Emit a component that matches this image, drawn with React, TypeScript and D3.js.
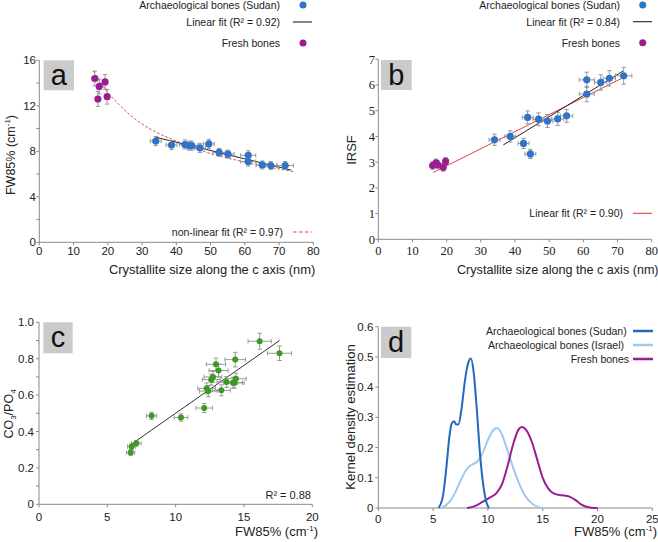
import React from "react";
import * as d3 from "d3";

// ---------- DATA ----------
// Panels a & b: archaeological bones (Sudan)
const archCryst = [34.0, 38.6, 42.5, 43.7, 44.5, 46.9, 49.5, 52.5, 55.1, 61.0, 61.0, 65.1, 67.6, 71.8];
const archCrystErr = [1.6, 1.6, 1.6, 1.6, 1.6, 1.6, 1.6, 1.8, 1.8, 2.2, 2.2, 1.8, 1.8, 2.4];
const archFW = [8.9, 8.55, 8.6, 8.5, 8.5, 8.3, 8.65, 7.9, 7.75, 7.65, 7.1, 6.8, 6.75, 6.75];
const archFWErr = [0.4, 0.4, 0.4, 0.4, 0.4, 0.4, 0.4, 0.35, 0.35, 0.4, 0.4, 0.35, 0.35, 0.35];
const archIRSF = [3.87, 4.0, 3.73, 4.74, 3.32, 4.67, 4.6, 4.68, 4.8, 6.2, 5.65, 6.1, 6.26, 6.36];
const archIRSFErr = [0.22, 0.22, 0.2, 0.25, 0.18, 0.25, 0.25, 0.25, 0.25, 0.3, 0.3, 0.3, 0.3, 0.33];

// Fresh bones
const freshCrystA = [16.2, 17.5, 17.1, 19.2, 19.8];
const freshFW = [14.4, 13.7, 12.6, 14.1, 12.8];
const freshFWErr = [0.65, 0.65, 0.65, 0.65, 0.65];
const freshCrystB = [15.9, 16.9, 17.4, 19.0, 19.7];
const freshIRSF = [2.87, 2.97, 2.9, 2.8, 3.03];
const freshIRSFErr = [0.15, 0.15, 0.15, 0.15, 0.15];
const freshCrystErr = [0.7, 0.7, 0.7, 0.7, 0.7];

// Fits
const fitA_linX = [33.8, 73.5];
const fitA_linY = [9.25, 6.35];
const fitA_nlX = [15.8, 18, 20.6, 23, 26.5, 30, 34, 40, 45, 50, 55, 60, 65, 70, 74.7];
const fitA_nlY = [15.06, 14.0, 12.95, 12.2, 11.2, 10.4, 9.7, 8.9, 8.3, 7.8, 7.4, 7.05, 6.7, 6.45, 6.2];
const fitB_archX = [36.6, 71.7];
const fitB_archY = [3.67, 6.55];
const fitB_allX = [16.1, 71.7];
const fitB_allY = [2.6, 6.29];

// Panel c
const cFW = [16.15, 17.6, 14.36, 12.95, 13.14, 12.73, 12.6, 13.73, 14.19, 14.41, 14.32, 12.27, 12.39, 13.34, 12.09, 8.24, 10.39, 7.12, 6.78, 6.71];
const cFWErr = [0.85, 0.88, 0.75, 0.7, 0.7, 0.65, 0.65, 0.7, 0.7, 0.75, 0.7, 0.65, 0.65, 0.65, 0.6, 0.37, 0.5, 0.35, 0.3, 0.3];
const cRatio = [0.896, 0.83, 0.795, 0.769, 0.735, 0.7, 0.685, 0.672, 0.668, 0.69, 0.668, 0.637, 0.622, 0.626, 0.529, 0.486, 0.477, 0.335, 0.317, 0.284];
const cRatioErr = [0.044, 0.04, 0.04, 0.035, 0.035, 0.03, 0.03, 0.03, 0.03, 0.03, 0.03, 0.03, 0.03, 0.03, 0.025, 0.02, 0.02, 0.015, 0.015, 0.015];
const fitC_X = [6.78, 17.6];
const fitC_Y = [0.331, 0.9];

// Panel d: kernel density curves
const kdeSudanX = [5.5, 5.9, 6.2, 6.5, 6.7, 6.9, 7.1, 7.3, 7.6, 7.9, 8.2, 8.45, 8.7, 9.0, 9.3, 9.6, 9.9, 10.1];
const kdeSudanY = [0, 0.04, 0.13, 0.24, 0.28, 0.287, 0.277, 0.276, 0.33, 0.42, 0.48, 0.495, 0.45, 0.32, 0.17, 0.07, 0.015, 0];
const kdeIsraelX = [5.8, 6.5, 7.0, 7.5, 8.0, 8.5, 9.0, 9.5, 10.0, 10.5, 10.8, 11.2, 11.7, 12.2, 12.8, 13.5, 14.2, 15.0];
const kdeIsraelY = [0, 0.02, 0.05, 0.09, 0.125, 0.143, 0.152, 0.18, 0.225, 0.258, 0.265, 0.25, 0.2, 0.145, 0.085, 0.035, 0.01, 0];
const kdeFreshX = [8.1, 8.8, 9.5, 10.2, 10.8, 11.3, 11.8, 12.3, 12.8, 13.1, 13.5, 14.0, 14.5, 15.0, 15.5, 16.0, 16.5, 17.0, 17.5, 18.0, 18.5, 19.0, 19.5, 20.0];
const kdeFreshY = [0, 0.006, 0.02, 0.035, 0.05, 0.08, 0.14, 0.21, 0.26, 0.268, 0.258, 0.22, 0.16, 0.1, 0.065, 0.048, 0.043, 0.041, 0.037, 0.026, 0.012, 0.004, 0.001, 0];

const ticksA_X = [0, 10, 20, 30, 40, 50, 60, 70, 80];
const ticksA_Y = [0, 4, 8, 12, 16];
const minorA_Y = [2, 6, 10, 14];
const ticksB_Y = [0, 1, 2, 3, 4, 5, 6, 7];
const ticksC_X = [0, 5, 10, 15, 20];
const ticksC_Y = [0, 0.2, 0.4, 0.6, 0.8, 1.0];
const minorC_Y = [0.1, 0.3, 0.5, 0.7, 0.9];
const ticksD_X = [0, 5, 10, 15, 20, 25];
const ticksD_Y = [0, 0.1, 0.2, 0.3, 0.4, 0.5, 0.6];

// ---------- STYLE ----------
const BLUE = "#2f74c8";
const PURPLE = "#9b1d8f";
const GREEN = "#3a9a22";
const RED = "#e0463c";
const AXIS = "#8a8a8a";
const ERR = "#8f8f8f";
const SANS = "Liberation Sans, Arial, sans-serif";
const SERIF = "Liberation Serif, Times New Roman, serif";
const TXT = "#222";

type Sc = d3.ScaleLinear<number, number>;

function Scatter({ xs, ys, xe, ye, sx, sy, color, r }: any) {
  return (
    <g>
      {xs.map((x: number, i: number) => {
        const cx = sx(x), cy = sy(ys[i]);
        const x0 = sx(x - xe[i]), x1 = sx(x + xe[i]);
        const y0 = sy(ys[i] - ye[i]), y1 = sy(ys[i] + ye[i]);
        return (
          <g key={i} stroke={ERR} strokeWidth={0.9}>
            <line x1={x0} x2={x1} y1={cy} y2={cy} />
            <line x1={x0} x2={x0} y1={cy - 2.2} y2={cy + 2.2} />
            <line x1={x1} x2={x1} y1={cy - 2.2} y2={cy + 2.2} />
            <line x1={cx} x2={cx} y1={y0} y2={y1} />
            <line x1={cx - 2.2} x2={cx + 2.2} y1={y0} y2={y0} />
            <line x1={cx - 2.2} x2={cx + 2.2} y1={y1} y2={y1} />
          </g>
        );
      })}
      {xs.map((x: number, i: number) => (
        <circle key={"c" + i} cx={sx(x)} cy={sy(ys[i])} r={r} fill={color} />
      ))}
    </g>
  );
}

function Axes({ sx, sy, xt, yt, ymin, xfmt, yfmt, font, fs, xLabY, yLabX }: any) {
  const [x0, x1] = sx.range();
  const [yb, yt0] = sy.range();
  return (
    <g>
      <line x1={x0} x2={x1} y1={yb} y2={yb} stroke={AXIS} />
      <line x1={x0} x2={x0} y1={yb} y2={yt0} stroke={AXIS} />
      {xt.map((t: number) => (
        <g key={"x" + t}>
          <line x1={sx(t)} x2={sx(t)} y1={yb} y2={yb + 3} stroke={AXIS} />
          <text x={sx(t)} y={xLabY} textAnchor="middle" fontFamily={font} fontSize={fs} fill={TXT}>
            {xfmt(t)}
          </text>
        </g>
      ))}
      {yt.map((t: number) => (
        <g key={"y" + t}>
          <line x1={x0 - 3} x2={x0} y1={sy(t)} y2={sy(t)} stroke={AXIS} />
          <text x={yLabX} y={sy(t) + fs * 0.35} textAnchor="end" fontFamily={font} fontSize={fs} fill={TXT}>
            {yfmt(t)}
          </text>
        </g>
      ))}
      {(ymin || []).map((t: number) => (
        <line key={"m" + t} x1={x0 - 3} x2={x0} y1={sy(t)} y2={sy(t)} stroke={AXIS} />
      ))}
    </g>
  );
}

function LabelBox({ x, y, w, h, letter }: any) {
  return (
    <g>
      <rect x={x} y={y} width={w} height={h} fill="#cbcbcb" />
      <text x={x + w / 2} y={y + h / 2 + 9.5} textAnchor="middle" fontFamily={SANS} fontSize={29} fill="#111">
        {letter}
      </text>
    </g>
  );
}

function LegendDot({ tx, mx, y, label, color }: any) {
  return (
    <g>
      <text x={tx} y={y + 3.8} textAnchor="end" fontFamily={SANS} fontSize={10.5} fill={TXT}>{label}</text>
      <circle cx={mx} cy={y} r={3.5} fill={color} />
    </g>
  );
}

function LegendLine({ tx, lx0, lx1, y, label, color, dash, w }: any) {
  return (
    <g>
      <text x={tx} y={y + 3.8} textAnchor="end" fontFamily={SANS} fontSize={10.5} fill={TXT}>{label}</text>
      <line x1={lx0} x2={lx1} y1={y} y2={y} stroke={color} strokeWidth={w || 1.1} strokeDasharray={dash} />
    </g>
  );
}

const fmtInt = (t: number) => String(t);
const fmtDec = (t: number) => (t === 0 ? "0" : t.toFixed(1));

export default function App() {
  // scales
  const axX = d3.scaleLinear().domain([0, 80]).range([39.3, 313.3]);
  const axY = d3.scaleLinear().domain([0, 16]).range([242.3, 60.3]);
  const bxX = d3.scaleLinear().domain([0, 80]).range([378.3, 651.7]);
  const bxY = d3.scaleLinear().domain([0, 7]).range([239.3, 59.3]);
  const cxX = d3.scaleLinear().domain([0, 20]).range([39, 312.3]);
  const cxY = d3.scaleLinear().domain([0, 1]).range([504.3, 322.3]);
  const dxX = d3.scaleLinear().domain([0, 25]).range([378.3, 652.3]);
  const dxY = d3.scaleLinear().domain([0, 0.6]).range([508, 326.7]);

  const mkLine = (sx: Sc, sy: Sc, xs: number[], ys: number[], curve: any) =>
    d3.line<number>().x((d) => sx(d)).y((_, i) => sy(ys[i])).curve(curve)(xs) || "";

  return (
    <svg width={658} height={542} style={{ position: "absolute", left: 0, top: 0, background: "#fff" }}>
      <rect width={658} height={542} fill="#fff" />

      {/* ---------- Panel a ---------- */}
      <Axes sx={axX} sy={axY} xt={ticksA_X} yt={ticksA_Y} ymin={minorA_Y} xfmt={fmtInt} yfmt={fmtInt}
        font={SANS} fs={11.5} xLabY={254.5} yLabX={36} />
      <LabelBox x={43.7} y={60.3} w={30.3} h={30} letter="a" />
      <path d={mkLine(axX, axY, fitA_nlX, fitA_nlY, d3.curveMonotoneX)} fill="none" stroke={RED} strokeWidth={1} strokeDasharray="2.5,2" />
      <path d={mkLine(axX, axY, fitA_linX, fitA_linY, d3.curveLinear)} fill="none" stroke="#222" strokeWidth={1} />
      <Scatter xs={archCryst} ys={archFW} xe={archCrystErr} ye={archFWErr} sx={axX} sy={axY} color={BLUE} r={3.6} />
      <Scatter xs={freshCrystA} ys={freshFW} xe={freshCrystErr} ye={freshFWErr} sx={axX} sy={axY} color={PURPLE} r={3.6} />
      <LegendDot tx={280} mx={303} y={5} label="Archaeological bones (Sudan)" color={BLUE} />
      <LegendLine tx={280} lx0={293} lx1={312} y={22} label="Linear fit (R² = 0.92)" color="#222" />
      <LegendDot tx={280} mx={303} y={43} label="Fresh bones" color={PURPLE} />
      <LegendLine tx={283} lx0={293} lx1={312} y={232} label="non-linear fit (R² = 0.97)" color={RED} dash="3.5,2.5" />
      <text x={109} y={273.5} fontFamily={SANS} fontSize={12.9} fill={TXT}>Crystallite size along the c axis (nm)</text>
      <text transform="translate(14.5,155) rotate(-90)" textAnchor="middle" fontFamily={SANS} fontSize={12.5} fill={TXT}>
        FW85% (cm<tspan fontSize={8} dy={-5}>-1</tspan><tspan dy={5}>)</tspan>
      </text>

      {/* ---------- Panel b ---------- */}
      <Axes sx={bxX} sy={bxY} xt={ticksA_X} yt={ticksB_Y} ymin={[]} xfmt={fmtInt} yfmt={fmtInt}
        font={SERIF} fs={12.5} xLabY={254.5} yLabX={375} />
      <LabelBox x={381} y={60} w={30.7} h={30} letter="b" />
      <path d={mkLine(bxX, bxY, fitB_allX, fitB_allY, d3.curveLinear)} fill="none" stroke={RED} strokeWidth={1} />
      <path d={mkLine(bxX, bxY, fitB_archX, fitB_archY, d3.curveLinear)} fill="none" stroke="#222" strokeWidth={1} />
      <Scatter xs={archCryst} ys={archIRSF} xe={archCrystErr} ye={archIRSFErr} sx={bxX} sy={bxY} color={BLUE} r={3.6} />
      <Scatter xs={freshCrystB} ys={freshIRSF} xe={freshCrystErr} ye={freshIRSFErr} sx={bxX} sy={bxY} color={PURPLE} r={3.6} />
      <LegendDot tx={620} mx={642.7} y={5} label="Archaeological bones (Sudan)" color={BLUE} />
      <LegendLine tx={620} lx0={633} lx1={652} y={21.7} label="Linear fit (R² = 0.84)" color="#222" />
      <LegendDot tx={620} mx={642.7} y={42.7} label="Fresh bones" color={PURPLE} />
      <LegendLine tx={623} lx0={633} lx1={652} y={213.3} label="Linear fit (R² = 0.90)" color={RED} />
      <text x={457} y={273.5} fontFamily={SANS} fontSize={12.6} fill={TXT}>Crystallite size along the c axis (nm)</text>
      <text transform="translate(356,150) rotate(-90)" textAnchor="middle" fontFamily={SANS} fontSize={13} fill={TXT}>IRSF</text>

      {/* ---------- Panel c ---------- */}
      <Axes sx={cxX} sy={cxY} xt={ticksC_X} yt={ticksC_Y} ymin={minorC_Y} xfmt={fmtInt} yfmt={fmtDec}
        font={SANS} fs={11.5} xLabY={521} yLabX={34} />
      <LabelBox x={43.3} y={322.3} w={29.4} h={31} letter="c" />
      <path d={mkLine(cxX, cxY, fitC_X, fitC_Y, d3.curveLinear)} fill="none" stroke="#333" strokeWidth={1} />
      <Scatter xs={cFW} ys={cRatio} xe={cFWErr} ye={cRatioErr} sx={cxX} sy={cxY} color={GREEN} r={3} />
      <text x={311} y={498.5} textAnchor="end" fontFamily={SANS} fontSize={11} fill={TXT}>R² = 0.88</text>
      <text x={318} y={536} textAnchor="end" fontFamily={SANS} fontSize={13} fill={TXT}>
        FW85% (cm<tspan fontSize={8} dy={-5}>-1</tspan><tspan dy={5}>)</tspan>
      </text>
      <text transform="translate(13,414) rotate(-90)" textAnchor="middle" fontFamily={SANS} fontSize={12.5} fill={TXT}>
        CO<tspan fontSize={8} dy={3}>3</tspan><tspan dy={-3}>/PO</tspan><tspan fontSize={8} dy={3}>4</tspan>
      </text>

      {/* ---------- Panel d ---------- */}
      <Axes sx={dxX} sy={dxY} xt={ticksD_X} yt={ticksD_Y} ymin={[]} xfmt={fmtInt} yfmt={fmtDec}
        font={SANS} fs={11.5} xLabY={522.5} yLabX={373.3} />
      <LabelBox x={381} y={326.7} w={30.3} h={31.3} letter="d" />
      <path d={mkLine(dxX, dxY, kdeIsraelX, kdeIsraelY, d3.curveMonotoneX)} fill="none" stroke="#9fc8f0" strokeWidth={2} />
      <path d={mkLine(dxX, dxY, kdeFreshX, kdeFreshY, d3.curveMonotoneX)} fill="none" stroke={PURPLE} strokeWidth={2} />
      <path d={mkLine(dxX, dxY, kdeSudanX, kdeSudanY, d3.curveMonotoneX)} fill="none" stroke="#2468c0" strokeWidth={2} />
      <LegendLine tx={626.7} lx0={633} lx1={653} y={331} label="Archaeological bones (Sudan)" color="#2468c0" w={2.5} />
      <LegendLine tx={624} lx0={633} lx1={653} y={345} label="Archaeological bones (Israel)" color="#9fc8f0" w={2.5} />
      <LegendLine tx={629} lx0={633} lx1={653} y={359} label="Fresh bones" color={PURPLE} w={2.5} />
      <text x={657} y={536} textAnchor="end" fontFamily={SANS} fontSize={13} fill={TXT}>
        FW85% (cm<tspan fontSize={8} dy={-5}>-1</tspan><tspan dy={5}>)</tspan>
      </text>
      <text transform="translate(354.5,417) rotate(-90)" textAnchor="middle" fontFamily={SANS} fontSize={13} fill={TXT}>
        Kernel density estimation
      </text>
    </svg>
  );
}
